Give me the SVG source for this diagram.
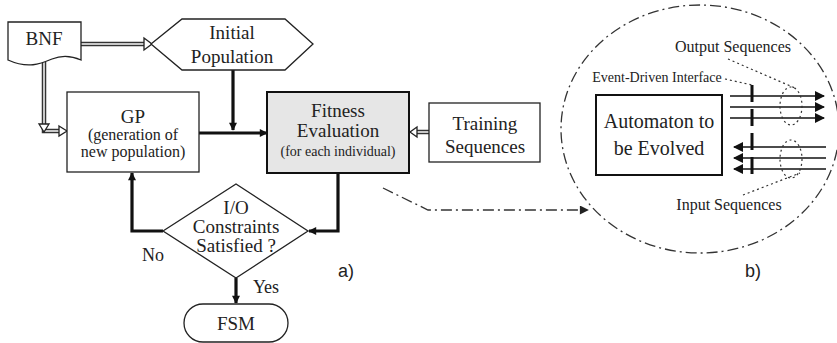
<svg xmlns="http://www.w3.org/2000/svg" width="837" height="343" viewBox="0 0 837 343">
<style>
  .t{font-family:"Liberation Serif","Times New Roman",serif;fill:#222;text-anchor:middle}
  .s{font-family:"Liberation Sans",Arial,sans-serif;fill:#222}
  .box{fill:#fff;stroke:#222;stroke-width:1.3}
  .thick{fill:none;stroke:#111;stroke-width:3.2}
  .dbl-o{fill:none;stroke:#333;stroke-width:4.5}
  .dbl-i{fill:none;stroke:#c8c8c8;stroke-width:2}
  .dd{fill:none;stroke:#333;stroke-width:1.3;stroke-dasharray:11 4 2 4}
  .dot{fill:none;stroke:#333;stroke-width:1.2;stroke-dasharray:2 3}
  .thin{fill:none;stroke:#111;stroke-width:1.5}
</style>
<defs>
  <marker id="ah" viewBox="0 0 10 10" refX="9" refY="5" markerWidth="9" markerHeight="8" markerUnits="userSpaceOnUse" orient="auto">
    <path d="M0,0 L10,5 L0,10 z" fill="#111"/>
  </marker>
  <marker id="ahs" viewBox="0 0 10 10" refX="9" refY="5" markerWidth="12" markerHeight="10" markerUnits="userSpaceOnUse" orient="auto">
    <path d="M0,0 L10,5 L0,10 z" fill="#111"/>
  </marker>
  <marker id="ahd" viewBox="0 0 10 10" refX="9" refY="5" markerWidth="11" markerHeight="9" markerUnits="userSpaceOnUse" orient="auto">
    <path d="M0,0 L10,5 L0,10 z" fill="#222"/>
  </marker>
</defs>

<g id="connectors">
  <!-- double-line arrows -->
  <path class="dbl-o" d="M81,44 H146"/>
  <path class="dbl-i" d="M81,44 H147"/>
  <path d="M144,38 L152,44 L144,50 z" fill="#fff" stroke="#222" stroke-width="1.3"/>
  <path class="dbl-o" d="M44,62 V131 H61"/>
  <path class="dbl-i" d="M44,61 V131 H62"/>
  <path d="M39,124 L44,132 L49,124 z" fill="#fff" stroke="#222" stroke-width="1.3"/>
  <path d="M59,126 L67,131 L59,136 z" fill="#fff" stroke="#222" stroke-width="1.3"/>
  <path class="dbl-o" d="M429,132 H415"/>
  <path class="dbl-i" d="M430,132 H414"/>
  <path d="M417,127 L410,132 L417,137 z" fill="#fff" stroke="#222" stroke-width="1.3"/>
  <!-- thick flow arrows -->
  <path class="thick" d="M233,70 V130" marker-end="url(#ah)"/>
  <path class="thick" d="M199,133 H267" marker-end="url(#ah)"/>
  <path class="thick" d="M338,173 V231 H309" marker-end="url(#ah)"/>
  <path class="thick" d="M163,231 H132 V173" marker-end="url(#ah)"/>
  <path class="thick" d="M236,278 V303" marker-end="url(#ah)"/>
  <!-- dash-dot link to b) -->
  <path class="dd" d="M383,188 L428,210 H588" marker-end="url(#ahd)"/>
</g>

<g id="bnf">
  <path class="box" d="M8,22 H81 V60 C72,56 62,55 52,59 C40,64 28,69 8,60 Z"/>
  <text class="t" x="44" y="45" font-size="19">BNF</text>
</g>

<g id="initial-population">
  <path class="box" d="M151,44 L182,19 H285 L313,44 L285,70 H182 Z"/>
  <text class="t" x="232" y="39" font-size="19">Initial</text>
  <text class="t" x="232" y="63" font-size="19">Population</text>
</g>

<g id="gp">
  <rect class="box" x="67" y="92" width="132" height="80"/>
  <text class="t" x="133" y="123" font-size="19">GP</text>
  <text class="t" x="133" y="140" font-size="16">(generation of</text>
  <text class="t" x="133" y="157" font-size="16">new population)</text>
</g>

<g id="fitness">
  <rect x="267" y="92" width="142" height="81" fill="#e6e6e6" stroke="#111" stroke-width="2"/>
  <text class="t" x="338" y="117" font-size="19">Fitness</text>
  <text class="t" x="338" y="137" font-size="19">Evaluation</text>
  <text class="t" x="338" y="156" font-size="14">(for each individual)</text>
</g>

<g id="training">
  <rect class="box" x="429" y="103" width="111" height="59"/>
  <text class="t" x="485" y="130" font-size="19">Training</text>
  <text class="t" x="485" y="153" font-size="19">Sequences</text>
</g>

<g id="decision">
  <path class="box" d="M163,231 L236,184 L308,231 L236,278 Z"/>
  <text class="t" x="236" y="214" font-size="19">I/O</text>
  <text class="t" x="236" y="233" font-size="19">Constraints</text>
  <text class="t" x="236" y="252" font-size="19">Satisfied ?</text>
  <text class="t" x="153" y="261" font-size="18">No</text>
  <text class="t" x="266" y="293" font-size="18">Yes</text>
</g>

<g id="fsm">
  <rect class="box" x="184" y="304" width="104" height="38" rx="19" ry="19"/>
  <text class="t" x="236" y="330" font-size="19">FSM</text>
</g>

<text class="s" x="338" y="277" font-size="18">a)</text>

<g id="detail-b">
  <ellipse class="dd" cx="700" cy="129" rx="139" ry="124"/>
  <g id="automaton">
    <rect x="596" y="95" width="126" height="80" fill="#fff" stroke="#111" stroke-width="2"/>
    <text class="t" x="659" y="128" font-size="20">Automaton to</text>
    <text class="t" x="659" y="155" font-size="20">be Evolved</text>
  </g>
  <g id="io-lines">
    <path class="thin" d="M730,96 H824" marker-end="url(#ahs)"/>
    <path class="thin" d="M730,107 H824" marker-end="url(#ahs)"/>
    <path class="thin" d="M730,118 H824" marker-end="url(#ahs)"/>
    <path class="thin" d="M826,147 H734" marker-end="url(#ahs)"/>
    <path class="thin" d="M826,158 H734" marker-end="url(#ahs)"/>
    <path class="thin" d="M826,169 H734" marker-end="url(#ahs)"/>
    <path d="M752,85 V178" fill="none" stroke="#111" stroke-width="3" stroke-dasharray="17 7"/>
    <ellipse class="dot" cx="791" cy="106" rx="11" ry="19"/>
    <ellipse class="dot" cx="791" cy="159" rx="11" ry="19"/>
    <path class="dot" d="M728,59 L795,88"/>
    <path class="dot" d="M725,79 L752,85"/>
    <path class="dot" d="M743,195 L800,173"/>
  </g>
  <text class="t" x="733" y="52" font-size="16">Output Sequences</text>
  <text class="t" x="657" y="82" font-size="14">Event-Driven Interface</text>
  <text class="t" x="729" y="210" font-size="16">Input Sequences</text>
  <text class="s" x="745" y="277" font-size="18">b)</text>
</g>
</svg>
